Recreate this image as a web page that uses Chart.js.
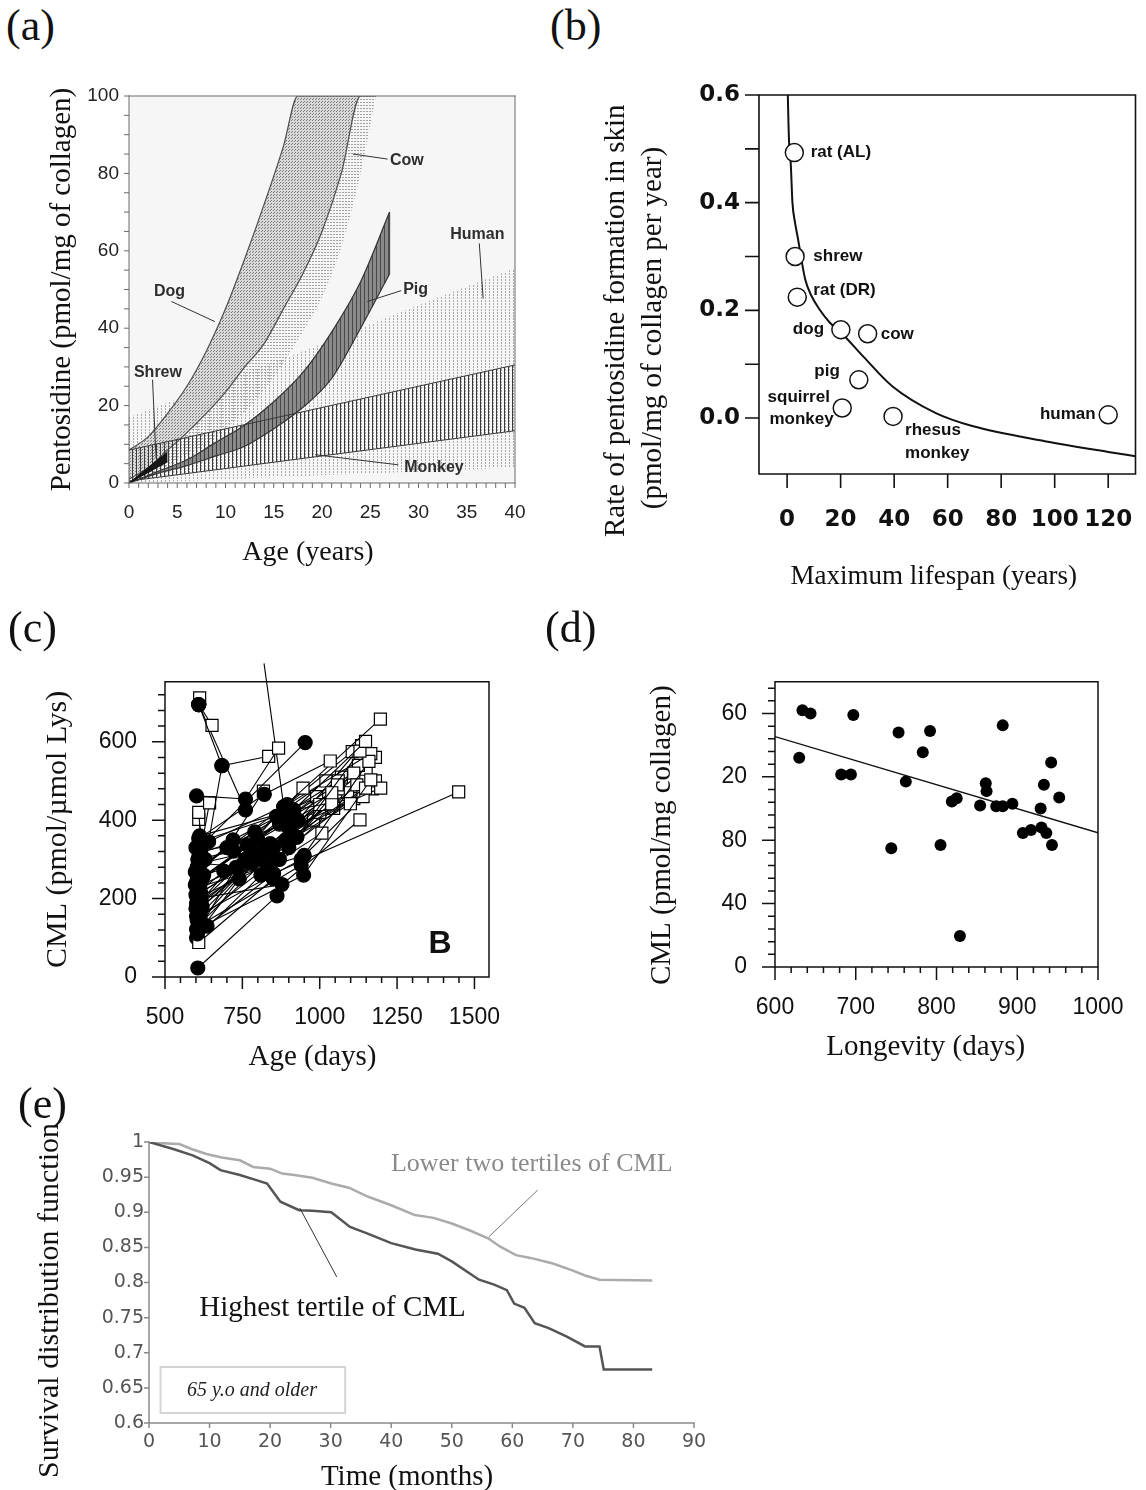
<!DOCTYPE html>
<html lang="en">
<head>
  <meta charset="UTF-8">
  <title>Pentosidine and CML versus age, lifespan and survival</title>
  <script src="https://cdn.jsdelivr.net/npm/chart.js"></script>
  <style>
    html, body { margin: 0; padding: 0; background: #fff; }
    #page { position: relative; width: 1146px; height: 1490px; overflow: hidden; }
    canvas { position: absolute; }
    .tag {
      position: absolute;
      font-family: 'Liberation Serif', 'Times New Roman', serif;
      font-size: 44px;
      line-height: 1;
      color: #111;
      z-index: 2;
    }
  </style>
</head>
<body>
<div id="page">
  <div class="tag" style="left:6px;top:4px">(a)</div>
  <div class="tag" style="left:550px;top:4px">(b)</div>
  <div class="tag" style="left:8px;top:606px">(c)</div>
  <div class="tag" style="left:545px;top:606px">(d)</div>
  <div class="tag" style="left:18px;top:1082px">(e)</div>

  <canvas id="chartA" width="560" height="520" style="left:0;top:60px"></canvas>
  <canvas id="chartB" width="576" height="545" style="left:570px;top:60px"></canvas>
  <canvas id="chartC" width="520" height="440" style="left:0;top:640px"></canvas>
  <canvas id="chartD" width="506" height="440" style="left:640px;top:640px"></canvas>
  <canvas id="chartE" width="720" height="400" style="left:0;top:1100px"></canvas>
</div>

<script>
  // ---------- (a) pentosidine vs age, bands per species ----------
  const aAgeTicks = [0, 5, 10, 15, 20, 25, 30, 35, 40];
  const aPentTicks = [0, 20, 40, 60, 80, 100];

  const humanAge = [0, 10, 20, 30, 40];
  const humanTop = [17, 26.5, 36, 46, 55.5];
  const humanLow = [0, 1, 2, 3, 4];

  const cowAge = [0, 2, 4, 6, 8, 10, 12, 14, 16, 18, 20, 22, 24, 25.6];
  const cowMid = [1, 4, 8.5, 13, 18, 23.5, 30, 36, 45, 54, 65, 80, 100, 100];
  const cowLow = [0, 2, 4.5, 7.5, 10, 14, 18.5, 24, 31, 39, 48, 61, 80, 100];

  const dogAge = [0, 2, 4, 6, 8, 10, 12, 14, 16, 17.5, 24];
  const dogTop = [8.5, 12, 18, 25, 34, 45, 58, 72, 87, 100, 100];

  const pigAge = [0, 3, 6, 9, 12, 15, 18, 21, 24, 27];
  const pigTop = [0, 3, 6, 10.5, 15, 21, 28.5, 39, 52, 70];
  const pigLow = [0, 2.5, 4.5, 7, 9.5, 14, 19.5, 27, 40, 54];

  const monkeyAge = [0, 20, 40];
  const monkeyTop = [8.5, 19.5, 30.5];
  const monkeyLow = [0.5, 7, 13.5];

  const shrewAge = [0, 4];
  const shrewTop = [0, 8];
  const shrewLow = [0, 5.5];

  // ---------- (b) rate of formation vs maximum lifespan ----------
  const bSpanTicks = [0, 20, 40, 60, 80, 100, 120];
  const bRateTicks = [0, 0.2, 0.4, 0.6];
  const species = ['rat (AL)', 'shrew', 'rat (DR)', 'dog', 'cow', 'pig', 'squirrel monkey', 'rhesus monkey', 'human'];
  const lifespan = [2.7, 3.0, 3.8, 20.1, 30.1, 26.8, 20.6, 39.6, 120];
  const rate = [0.493, 0.300, 0.2245, 0.164, 0.1565, 0.071, 0.0186, 0.003, 0.006];
  const fitLifespan = [0.27, 0.5, 0.8, 1.36, 2.0, 3.0, 4.1, 5.5, 6.8, 9, 12.2, 16, 20.3, 28.5, 39.3, 55.6, 69.2, 96.3, 120, 130.2];
  const fitRate = [0.600, 0.550, 0.505, 0.473, 0.400, 0.362, 0.332, 0.290, 0.257, 0.228, 0.201, 0.177, 0.158, 0.114, 0.059, 0.009, -0.015, -0.043, -0.063, -0.071];

  // ---------- (c) CML vs age, repeated samples per animal ----------
  const cAgeTicks = [500, 750, 1000, 1250, 1500];
  const cCmlTicks = [0, 200, 400, 600];
  // first and second sample (filled circles), last value (open squares)
  const cFirstAge  = [609, 609, 609, 609, 602, 609, 641, 609, 598, 598, 602, 602, 602, 636, 606, 604, 609, 612, 606, 605, 608, 610, 615, 620, 605, 612, 625, null, 612, 600, 617, 604, 606, 615, 603, 630, null,
                      600, 612, 604, 608, 614, 603, 610, 606, 618, 602, 612, 605, 616, 620, 600, 609, 611, 607];
  const cFirstCml  = [695, 695, 695, 695, 462, 353, 345, 329, 268, 235, 187, 155, 122, 130, 23, 200, 290, 250, 300, 170, 140, 270, 215, 180, 110, 310, 260, null, 360, 210, 195, 145, 255, 320, 230, 300, null,
                      175, 205, 280, 120, 160, 245, 315, 185, 140, 100, 230, 265, 290, 250, 330, 130, 345, 215];
  const cSecondAge = [684, null, null, 760, 760, 821, 684, 953, 884, 916, 926, 940, 948, 851, 862, 878, 829, 765, 722, 800, 780, 700, 850, 900, 740, null, null, 850, 916, 926, 884, 860, 900, 800, 830, null, 884,
                      820, 870, 790, 730, 840, 905, 930, 760, 890, 810, 950, 720, 780, 870, 895, 940, 860, 690];
  const cSecondCml = [539, null, null, 426, 454, 466, 539, 598, 434, 426, 357, 300, 260, 264, 207, 236, 276, 337, 321, 300, 290, 330, 330, 380, 250, null, null, 250, 426, 357, 434, 300, 330, 350, 310, null, 434,
                      320, 300, 370, 280, 340, 410, 400, 300, 350, 260, 310, 350, 320, 390, 440, 285, 410, 270];
  const cLastAge   = [null, 652, 612, null, 867, 1034, 835, null, 1196, 1148, 1130, 1159, 1165, 1449, null, 1130, 1007, 946, 1039, 1099, 1148, 818, 1039, 1197, 1057, 644, 609, 609, 1140, 1120, 1165, 1060, 1180, 1000, 1110, 609, 820,
                      1090, 1125, 1060, 1000, 1150, 1180, 1135, 980, 1110, 1045, 1170, 990, null, 1070, 1105, null, 1020, 905];
  const cLastCml   = [null, 642, 712, null, 584, 551, 563, null, 658, 601, 576, 550, 503, 472, null, 401, 367, 482, 470, 442, 482, 474, 442, 482, 490, 444, 420, 88, 460, 490, 570, 480, 500, 440, 520, 402, 800,
                      470, 540, 500, 420, 530, 560, 590, 400, 455, 430, 480, 460, null, 510, 575, null, 500, 365];

  // ---------- (d) CML vs longevity ----------
  const dLongTicks = [600, 700, 800, 900, 1000];
  const dCmlTicks = [0, 40, 80, 120, 160];
  const dTickText = ['0', '40', '80', '20', '60'];
  const dLongevity = [630, 634, 644, 697, 682, 694, 753, 792, 783, 762, 744, 805, 819, 825, 829, 854, 861, 862, 874, 882, 894, 882, 907, 917, 930, 936, 929, 933, 942, 943, 952];
  const dCml = [132, 162, 160, 159, 121.5, 121.5, 148, 149, 135.5, 117, 75, 77, 104.5, 106.5, 19.5, 102, 116, 111, 101.5, 101.5, 103, 152.5, 84.5, 86.5, 88, 84.5, 100, 115, 129, 77, 107];
  const dFitLongevity = [600, 1000];
  const dFitCml = [145.4, 84.7];

  // ---------- (e) survival by CML tertile ----------
  const eMonthTicks = [0, 10, 20, 30, 40, 50, 60, 70, 80, 90];
  const eSurvTicks = [0.6, 0.65, 0.7, 0.75, 0.8, 0.85, 0.9, 0.95, 1];
  const lowMonths = [0, 3, 5, 7, 9.5, 12, 15, 17.2, 20, 22, 24, 27, 30.1, 33, 36.2, 40, 43.9, 47, 50, 53, 56, 58, 60.6, 63, 66.7, 70, 72, 74.4, 83.1];
  const lowSurvival = [1, 0.998, 0.997, 0.99, 0.983, 0.978, 0.974, 0.9645, 0.962, 0.955, 0.953, 0.949, 0.941, 0.935, 0.922, 0.91, 0.896, 0.892, 0.884, 0.874, 0.863, 0.851, 0.839, 0.835, 0.827, 0.817, 0.81, 0.804, 0.803];
  const highMonths = [0, 4, 7.2, 10, 11.8, 15, 18, 19.5, 21.7, 24.8, 27, 30.1, 33.2, 36, 40, 44, 47.7, 50, 54.5, 57, 59.1, 60.3, 62, 63.7, 66, 69, 72, 74.4, 75.1, 83.1];
  const highSurvival = [1, 0.99, 0.981, 0.97, 0.96, 0.953, 0.945, 0.941, 0.915, 0.903, 0.902, 0.9, 0.879, 0.87, 0.856, 0.847, 0.841, 0.83, 0.804, 0.797, 0.789, 0.77, 0.764, 0.742, 0.735, 0.723, 0.709, 0.709, 0.676, 0.676];

  // ---------- helpers ----------
  const serif = "'Liberation Serif', 'Times New Roman', serif";
  const sans = "'Liberation Sans', Arial, sans-serif";
  const dejavu = "'DejaVu Sans', Verdana, sans-serif";
  const pts = (xs, ys) => xs.map((x, i) => ({ x: x, y: ys[i] }));

  function makePattern(w, h, base, paint) {
    const c = document.createElement('canvas');
    c.width = w; c.height = h;
    const g = c.getContext('2d');
    if (base) { g.fillStyle = base; g.fillRect(0, 0, w, h); }
    paint(g);
    return g.createPattern(c, 'repeat');
  }

  // axis frame and tick marks, drawn through the chart scales
  const framePlugin = {
    id: 'frame',
    beforeDatasetsDraw(chart, args, o) {
      if (!o.background) return;
      const a = chart.chartArea;
      chart.ctx.save();
      chart.ctx.fillStyle = o.background;
      chart.ctx.fillRect(a.left, a.top, a.right - a.left, a.bottom - a.top);
      chart.ctx.restore();
    },
    afterDatasetsDraw(chart, args, o) {
      const { ctx, chartArea: a, scales } = chart;
      ctx.save();
      ctx.strokeStyle = o.color;
      ctx.lineWidth = o.width;
      ctx.lineCap = 'square';
      ctx.beginPath();
      if (o.sides.includes('left')) { ctx.moveTo(a.left, a.top); ctx.lineTo(a.left, a.bottom); }
      if (o.sides.includes('bottom')) { ctx.moveTo(a.left, a.bottom); ctx.lineTo(a.right, a.bottom); }
      if (o.sides.includes('top')) { ctx.moveTo(a.left, a.top); ctx.lineTo(a.right, a.top); }
      if (o.sides.includes('right')) { ctx.moveTo(a.right, a.top); ctx.lineTo(a.right, a.bottom); }
      ctx.stroke();
      ctx.lineCap = 'butt';
      ctx.beginPath();
      (o.ticks || []).forEach(t => {
        const s = scales[t.axis];
        const n = Math.round((t.to - t.from) / t.step);
        for (let i = 0; i <= n; i++) {
          const p = s.getPixelForValue(t.from + i * t.step);
          if (t.axis === 'x') { ctx.moveTo(p, a.bottom); ctx.lineTo(p, a.bottom + t.len); }
          else { ctx.moveTo(a.left, p); ctx.lineTo(a.left - t.len, p); }
        }
      });
      ctx.stroke();
      ctx.restore();
    }
  };

  // text labels, leader lines and boxes placed in axis units
  const notesPlugin = {
    id: 'notes',
    afterDatasetsDraw(chart, args, o) {
      const { ctx } = chart;
      const px = v => chart.scales.x.getPixelForValue(v);
      const py = v => chart.scales.y.getPixelForValue(v);
      ctx.save();
      (o.boxes || []).forEach(b => {
        ctx.strokeStyle = b.color; ctx.lineWidth = b.width;
        ctx.strokeRect(px(b.x0), py(b.y0), px(b.x1) - px(b.x0), py(b.y1) - py(b.y0));
      });
      (o.lines || []).forEach(l => {
        ctx.strokeStyle = l.color || '#333'; ctx.lineWidth = l.width || 1;
        ctx.beginPath();
        ctx.moveTo(px(l.from[0]), py(l.from[1]));
        ctx.lineTo(px(l.to[0]), py(l.to[1]));
        ctx.stroke();
      });
      (o.texts || []).forEach(t => {
        ctx.font = t.font || o.font;
        ctx.fillStyle = t.color || o.color || '#000';
        ctx.textAlign = t.align || 'center';
        ctx.textBaseline = 'middle';
        ctx.fillText(t.text, px(t.at[0]), py(t.at[1]));
      });
      ctx.restore();
    }
  };

  // trailing spaces nudge a centred axis title toward its start, as in the source figure;
  // tl is an invisible tick length used as label offset so the layout keeps the plot width
  function axis(o) {
    return {
      type: 'linear',
      min: o.min, max: o.max,
      grid: { display: false, drawTicks: !!o.tl, tickLength: o.tl || 0, color: 'rgba(0,0,0,0)' },
      border: { display: false },
      afterBuildTicks: s => { s.ticks = o.values.map(v => ({ value: v })); },
      ticks: {
        autoSkip: false,
        maxRotation: 0,
        padding: o.pad,
        color: o.color || '#111',
        font: o.font,
        callback: o.callback || (v => String(v))
      },
      title: {
        display: true,
        text: o.title,
        color: o.titleColor || '#111',
        font: o.titleFont,
        padding: o.titlePad
      },
      afterFit: s => {
        if (o.width !== undefined) s.width = o.width;
        if (o.height !== undefined) s.height = o.height;
      }
    };
  }

  const baseOptions = (padTop, padRight) => ({
    responsive: false,
    animation: false,
    events: [],
    layout: { padding: { top: padTop, right: padRight, left: 0, bottom: 0 } },
    plugins: { legend: { display: false }, tooltip: { enabled: false } }
  });

  // ---------- chart (a) ----------
  const humanFill = makePattern(4, 3, null, g => { g.fillStyle = '#a9a9a9'; g.fillRect(1, 0, 1, 2); });
  const cowFill = makePattern(3, 3, null, g => { g.fillStyle = '#a2a2a2'; g.fillRect(0, 0, 2, 1); });
  const dogFill = makePattern(3, 3, '#d9d9d9', g => { g.fillStyle = '#7c7c7c'; g.fillRect(0, 0, 1, 1); g.fillRect(1, 2, 1, 1); });
  const pigFill = makePattern(4, 1, '#8a8a8a', g => { g.fillStyle = '#4a4a4a'; g.fillRect(0, 0, 1, 1); });
  const monkeyFill = makePattern(4, 1, null, g => { g.fillStyle = '#3a3a3a'; g.fillRect(0, 0, 1, 1); });

  function edge(xs, ys, color, width, order, fill, bg) {
    return {
      type: 'line',
      data: pts(xs, ys),
      borderColor: color || 'rgba(0,0,0,0)',
      borderWidth: width || 0,
      backgroundColor: bg || 'rgba(0,0,0,0)',
      fill: fill || false,
      pointRadius: 0,
      cubicInterpolationMode: 'monotone',
      order: order
    };
  }

  const optsA = baseOptions(36, 45);
  optsA.scales = {
    x: axis({ min: 0, max: 40, values: aAgeTicks, tl: 10, pad: 8.6, height: 97,
      font: { family: sans, size: 19 }, color: '#222',
      title: 'Age (years)\u2003', titleFont: { family: serif, size: 28, lineHeight: 1.2 }, titlePad: { top: 0, bottom: 10.2 } }),
    y: axis({ min: 0, max: 100, values: aPentTicks, pad: 10, width: 129,
      font: { family: sans, size: 19 }, color: '#222',
      title: 'Pentosidine (pmol/mg of collagen)', titleFont: { family: serif, size: 29, lineHeight: 1.2 }, titlePad: { top: 44.6, bottom: 0 } })
  };
  optsA.plugins.frame = {
    color: '#6a6a6a', width: 1, background: '#f6f6f6',
    sides: ['left', 'bottom', 'top', 'right'],
    ticks: [
      { axis: 'y', from: 0, to: 100, step: 5, len: 5 },
      { axis: 'x', from: 0, to: 40, step: 1, len: 5 }
    ]
  };
  optsA.plugins.notes = {
    font: 'bold 16px ' + sans, color: '#2e2e2e',
    texts: [
      { text: 'Dog', at: [4.2, 49.4] },
      { text: 'Cow', at: [28.8, 83.4] },
      { text: 'Human', at: [36.1, 64.1] },
      { text: 'Pig', at: [29.7, 49.9] },
      { text: 'Shrew', at: [3.0, 28.4] },
      { text: 'Monkey', at: [31.6, 4.1] }
    ],
    lines: [
      { from: [4.4, 46.9], to: [8.9, 41.7] },
      { from: [26.8, 83.7], to: [23.2, 85.0] },
      { from: [36.3, 61.9], to: [36.7, 47.7] },
      { from: [28.2, 49.7], to: [24.7, 46.9] },
      { from: [2.44, 26.7], to: [2.8, 6.4] },
      { from: [27.9, 4.7], to: [19.3, 7.3] }
    ]
  };

  new Chart(document.getElementById('chartA'), {
    type: 'line',
    data: {
      datasets: [
        edge(humanAge, humanLow, null, 0, 12),
        edge(humanAge, humanTop, null, 0, 12, '-1', humanFill),
        edge(cowAge, cowLow, null, 0, 10),
        edge(cowAge, cowMid, null, 0, 10, '-1', cowFill),
        edge(cowAge, cowMid, '#4d4d4d', 1.2, 8),
        edge(dogAge, dogTop, '#4d4d4d', 1.2, 8, '-1', dogFill),
        edge(pigAge, pigLow, '#333', 1.2, 6),
        edge(pigAge, pigTop, '#333', 1.2, 6, '-1', pigFill),
        edge([pigAge[pigAge.length - 1], pigAge[pigAge.length - 1]],
             [pigLow[pigLow.length - 1], pigTop[pigTop.length - 1]], '#333', 1.2, 6),
        edge(monkeyAge, monkeyLow, '#3a3a3a', 1, 4),
        edge(monkeyAge, monkeyTop, '#3a3a3a', 1, 4, '-1', monkeyFill),
        edge(shrewAge, shrewLow, '#111', 1, 2),
        edge(shrewAge, shrewTop, '#111', 1, 2, '-1', '#161616')
      ]
    },
    options: optsA,
    plugins: [framePlugin, notesPlugin]
  });

  // ---------- chart (b) ----------
  const optsB = baseOptions(35, 0);
  optsB.scales = {
    x: axis({ min: -10.5, max: 130.2, values: bSpanTicks, tl: 32, pad: 0.2, height: 131,
      font: { family: dejavu, size: 23, weight: 'bold' },
      title: 'Maximum lifespan (years)\u2003', titleFont: { family: serif, size: 27, lineHeight: 1.2 }, titlePad: { top: 0, bottom: 11.8 } }),
    y: axis({ min: -0.104, max: 0.6, values: bRateTicks, pad: 19, width: 189,
      font: { family: dejavu, size: 23, weight: 'bold' },
      callback: v => v.toFixed(1),
      title: ['Rate of pentosidine formation in skin\u2003\u2003\u2002', '(pmol/mg of collagen per year)\u2003\u2003\u2003'],
      titleFont: { family: serif, size: 29, lineHeight: 1.276 }, titlePad: { top: 27.5, bottom: 0 } })
  };
  optsB.plugins.frame = {
    color: '#111', width: 1.6,
    sides: ['left', 'bottom', 'top', 'right'],
    ticks: [
      { axis: 'y', from: 0, to: 0.6, step: 0.1, len: 14 },
      { axis: 'x', from: 0, to: 120, step: 20, len: 14 }
    ]
  };
  optsB.plugins.notes = {
    font: 'bold 17px ' + sans, color: '#111',
    texts: [
      { text: species[0], at: [8.8, 0.493], align: 'left' },
      { text: species[1], at: [9.8, 0.300], align: 'left' },
      { text: species[2], at: [9.8, 0.237], align: 'left' },
      { text: species[3], at: [13.8, 0.165], align: 'right' },
      { text: species[4], at: [35, 0.156], align: 'left' },
      { text: species[5], at: [19.7, 0.087], align: 'right' },
      { text: 'squirrel', at: [16, 0.039], align: 'right' },
      { text: 'monkey', at: [17.4, -0.003], align: 'right' },
      { text: 'rhesus', at: [44.1, -0.023], align: 'left' },
      { text: 'monkey', at: [44.1, -0.065], align: 'left' },
      { text: species[8], at: [115.3, 0.006], align: 'right' }
    ]
  };

  new Chart(document.getElementById('chartB'), {
    type: 'scatter',
    data: {
      datasets: [
        {
          data: pts(lifespan, rate),
          pointRadius: 9,
          pointBackgroundColor: '#fff',
          pointBorderColor: '#111',
          pointBorderWidth: 1.5
        },
        {
          data: pts(fitLifespan, fitRate),
          showLine: true,
          borderColor: '#111',
          borderWidth: 2,
          pointRadius: 0,
          cubicInterpolationMode: 'monotone'
        }
      ]
    },
    options: optsB,
    plugins: [framePlugin, notesPlugin]
  });

  // ---------- chart (c) ----------
  const cSets = cFirstAge.map((_, i) => {
    const data = [], style = [], fillc = [], rad = [];
    if (cFirstAge[i] !== null) { data.push({ x: cFirstAge[i], y: cFirstCml[i] }); style.push('circle'); fillc.push('#000'); rad.push(7); }
    if (cSecondAge[i] !== null) { data.push({ x: cSecondAge[i], y: cSecondCml[i] }); style.push('circle'); fillc.push('#000'); rad.push(7); }
    if (cLastAge[i] !== null) { data.push({ x: cLastAge[i], y: cLastCml[i] }); style.push('rect'); fillc.push('#fff'); rad.push(8.5); }
    return {
      data: data,
      showLine: true,
      borderColor: '#000',
      borderWidth: 1.1,
      pointStyle: style,
      pointRadius: rad,
      pointBackgroundColor: fillc,
      pointBorderColor: '#000',
      pointBorderWidth: 1.2,
      clip: cLastCml[i] !== null && cLastCml[i] > 753 ? { top: 20, left: 0, right: 0, bottom: 0 } : false
    };
  });

  const optsC = baseOptions(27, 31);
  optsC.scales = {
    x: axis({ min: 500, max: 1547, values: cAgeTicks, tl: 20, pad: 7.2, height: 103,
      font: { family: sans, size: 23 },
      title: 'Age (days)\u2003', titleFont: { family: serif, size: 29, lineHeight: 1.2 }, titlePad: { top: 0, bottom: 5.6 } }),
    y: axis({ min: 0, max: 753, values: cCmlTicks, pad: 28, width: 165,
      font: { family: sans, size: 23 },
      title: 'CML (pmol/\u00b5mol Lys)', titleFont: { family: serif, size: 30, lineHeight: 1.2 }, titlePad: { top: 40, bottom: 0 } })
  };
  optsC.plugins.frame = {
    color: '#111', width: 1.5,
    sides: ['left', 'bottom', 'top', 'right'],
    ticks: [
      { axis: 'y', from: 0, to: 720, step: 40, len: 7 },
      { axis: 'y', from: 0, to: 600, step: 200, len: 13 },
      { axis: 'x', from: 500, to: 1500, step: 50, len: 6 },
      { axis: 'x', from: 500, to: 1500, step: 250, len: 12 }
    ]
  };
  optsC.plugins.notes = {
    font: 'bold 32px ' + sans, color: '#111',
    texts: [{ text: 'B', at: [1389, 85] }]
  };

  new Chart(document.getElementById('chartC'), {
    type: 'scatter',
    data: { datasets: cSets },
    options: optsC,
    plugins: [framePlugin, notesPlugin]
  });

  // ---------- chart (d) ----------
  const optsD = baseOptions(19, 48);
  optsD.scales = {
    x: axis({ min: 600, max: 1000, values: dLongTicks, tl: 25, pad: 2.2, height: 113,
      font: { family: sans, size: 23 },
      title: 'Longevity (days)\u2002\u2005', titleFont: { family: serif, size: 29, lineHeight: 1.2 }, titlePad: { top: 0, bottom: 15.6 } }),
    y: axis({ min: 0, max: 180, values: dCmlTicks, pad: 28, width: 135,
      font: { family: sans, size: 23 },
      callback: (v, i) => dTickText[i],
      title: 'CML (pmol/mg collagen)\u2002\u2005', titleFont: { family: serif, size: 29, lineHeight: 1.2 }, titlePad: { top: 4.6, bottom: 0 } })
  };
  optsD.plugins.frame = {
    color: '#111', width: 1.5,
    sides: ['left', 'bottom', 'top', 'right'],
    ticks: [
      { axis: 'y', from: 0, to: 176, step: 8, len: 7 },
      { axis: 'y', from: 0, to: 160, step: 40, len: 13 },
      { axis: 'x', from: 600, to: 1000, step: 20, len: 6 },
      { axis: 'x', from: 600, to: 1000, step: 100, len: 13 }
    ]
  };

  new Chart(document.getElementById('chartD'), {
    type: 'scatter',
    data: {
      datasets: [
        {
          data: pts(dLongevity, dCml),
          pointRadius: 6,
          pointBackgroundColor: '#000',
          pointBorderColor: '#000',
          pointBorderWidth: 0
        },
        {
          data: pts(dFitLongevity, dFitCml),
          showLine: true,
          borderColor: '#111',
          borderWidth: 1.4,
          pointRadius: 0
        }
      ]
    },
    options: optsD,
    plugins: [framePlugin]
  });

  // ---------- chart (e) ----------
  const optsE = baseOptions(42, 26);
  optsE.scales = {
    x: axis({ min: 0, max: 90, values: eMonthTicks, pad: 8, height: 77,
      font: { family: dejavu, size: 19 }, color: '#555',
      title: 'Time (months)\u2003', titleFont: { family: serif, size: 29, lineHeight: 1.2 }, titlePad: { top: 0, bottom: 5.6 } }),
    y: axis({ min: 0.6, max: 1, values: eSurvTicks, pad: 5, width: 149,
      font: { family: dejavu, size: 19 }, color: '#555',
      callback: v => String(+v.toFixed(2)),
      title: 'Survival distribution function\u2003\u2009', titleFont: { family: serif, size: 30, lineHeight: 1.2 }, titlePad: { top: 32, bottom: 0 } })
  };
  optsE.plugins.frame = {
    color: '#8a8a8a', width: 1.5,
    sides: ['left', 'bottom'],
    ticks: [
      { axis: 'y', from: 0.6, to: 1, step: 0.05, len: 5 },
      { axis: 'x', from: 0, to: 90, step: 10, len: 5 }
    ]
  };
  optsE.plugins.notes = {
    font: '26px ' + serif,
    boxes: [{ x0: 1.9, y0: 0.6797, x1: 32.4, y1: 0.6142, color: '#d4d4d4', width: 2 }],
    lines: [
      { from: [64.2, 0.9317], to: [56.1, 0.8648], color: '#777' },
      { from: [24.9, 0.906], to: [31.0, 0.808], color: '#333' }
    ],
    texts: [
      { text: 'Lower two tertiles of CML', at: [63.2, 0.9687], color: '#8a8a8a', font: '26px ' + serif },
      { text: 'Highest tertile of CML', at: [30.3, 0.7637], color: '#111', font: '29px ' + serif },
      { text: '65 y.o and older', at: [17, 0.6456], color: '#222', font: 'italic 20px ' + serif }
    ]
  };

  new Chart(document.getElementById('chartE'), {
    type: 'scatter',
    data: {
      datasets: [
        {
          data: pts(highMonths, highSurvival),
          showLine: true,
          borderColor: '#555',
          borderWidth: 2.5,
          pointRadius: 0
        },
        {
          data: pts(lowMonths, lowSurvival),
          showLine: true,
          borderColor: '#ababab',
          borderWidth: 2.5,
          pointRadius: 0
        }
      ]
    },
    options: optsE,
    plugins: [framePlugin, notesPlugin]
  });
</script>
</body>
</html>
